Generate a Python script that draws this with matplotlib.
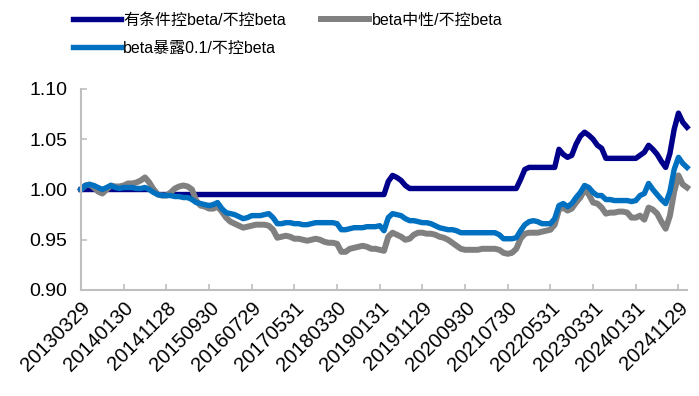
import numpy as np
import matplotlib.pyplot as plt

plt.rcParams['font.family'] = ['Liberation Sans', 'Noto Sans CJK SC']

# monthly data, tick every 10 months
tick_labels = ['20130329', '20140130', '20141128', '20150930', '20160729',
               '20170531', '20180330', '20190131', '20191129', '20200930',
               '20210730', '20220531', '20230331', '20240131', '20241129']

cond_ctrl = [1.000, 1.000, 1.000, 1.000, 1.000, 1.000, 1.000, 1.000, 1.000, 1.000,
             1.000, 1.000, 1.000, 1.000, 1.000, 1.000, 1.000, 1.000, 0.995, 0.995,
             0.995, 0.995, 0.995, 0.995, 0.995, 0.995, 0.995, 0.995, 0.995, 0.995,
             0.995, 0.995, 0.995, 0.995, 0.995, 0.995, 0.995, 0.995, 0.995, 0.995,
             0.995, 0.995, 0.995, 0.995, 0.995, 0.995, 0.995, 0.995, 0.995, 0.995,
             0.995, 0.995, 0.995, 0.995, 0.995, 0.995, 0.995, 0.995, 0.995, 0.995,
             0.995, 0.995, 0.995, 0.995, 0.995, 0.995, 0.995, 0.995, 0.995, 0.995,
             0.995, 0.995, 1.008, 1.014, 1.012, 1.009, 1.004, 1.001, 1.001, 1.001,
             1.001, 1.001, 1.001, 1.001, 1.001, 1.001, 1.001, 1.001, 1.001, 1.001,
             1.001, 1.001, 1.001, 1.001, 1.001, 1.001, 1.001, 1.001, 1.001, 1.001,
             1.001, 1.001, 1.001, 1.010, 1.020, 1.022, 1.022, 1.022, 1.022, 1.022,
             1.022, 1.022, 1.040, 1.035, 1.032, 1.034, 1.045, 1.053, 1.057, 1.054,
             1.050, 1.044, 1.041, 1.031, 1.031, 1.031, 1.031, 1.031, 1.031, 1.031,
             1.031, 1.034, 1.037, 1.044, 1.040, 1.035, 1.028, 1.022, 1.036, 1.060,
             1.076, 1.067, 1.062]

neutral = [1.000, 1.004, 1.005, 1.002, 0.998, 0.996, 1.000, 1.004, 1.003, 1.003,
           1.004, 1.006, 1.006, 1.007, 1.009, 1.012, 1.007, 1.000, 0.995, 0.994,
           0.994, 0.997, 1.001, 1.003, 1.004, 1.003, 1.000, 0.989, 0.984, 0.983,
           0.981, 0.981, 0.983, 0.978, 0.972, 0.968, 0.966, 0.964, 0.962, 0.963,
           0.964, 0.965, 0.965, 0.965, 0.964, 0.960, 0.952, 0.953, 0.954, 0.953,
           0.951, 0.951, 0.950, 0.949, 0.950, 0.951, 0.950, 0.948, 0.947, 0.947,
           0.946, 0.938, 0.938, 0.941, 0.942, 0.943, 0.944, 0.943, 0.941, 0.941,
           0.940, 0.939, 0.953, 0.957, 0.955, 0.953, 0.950, 0.951, 0.955, 0.957,
           0.957, 0.956, 0.956, 0.955, 0.953, 0.952, 0.950, 0.947, 0.944, 0.941,
           0.940, 0.940, 0.940, 0.940, 0.941, 0.941, 0.941, 0.941, 0.940, 0.937,
           0.936, 0.937, 0.941, 0.951, 0.956, 0.957, 0.957, 0.957, 0.958, 0.959,
           0.960, 0.965, 0.980, 0.982, 0.979, 0.981, 0.987, 0.992, 1.000, 0.995,
           0.987, 0.986, 0.982, 0.976, 0.977, 0.977, 0.978, 0.978, 0.977, 0.972,
           0.972, 0.974, 0.970, 0.982, 0.980, 0.976, 0.968, 0.961, 0.974, 0.998,
           1.014, 1.005, 1.002]

expo01 = [1.000, 1.004, 1.005, 1.004, 1.002, 1.000, 1.002, 1.004, 1.002, 1.001,
          1.002, 1.002, 1.002, 1.001, 1.001, 1.002, 1.000, 0.997, 0.995, 0.994,
          0.994, 0.994, 0.993, 0.993, 0.992, 0.992, 0.990, 0.987, 0.986, 0.985,
          0.984, 0.985, 0.987, 0.981, 0.977, 0.976, 0.975, 0.973, 0.971, 0.972,
          0.974, 0.974, 0.974, 0.975, 0.976, 0.972, 0.966, 0.966, 0.967, 0.967,
          0.966, 0.966, 0.965, 0.965, 0.966, 0.967, 0.967, 0.967, 0.967, 0.967,
          0.966, 0.960, 0.960, 0.961, 0.962, 0.962, 0.962, 0.963, 0.963, 0.963,
          0.964, 0.959, 0.972, 0.976, 0.975, 0.974, 0.971, 0.969, 0.969, 0.968,
          0.967, 0.967, 0.966, 0.964, 0.962, 0.961, 0.960, 0.960, 0.959, 0.957,
          0.957, 0.957, 0.957, 0.957, 0.957, 0.957, 0.957, 0.957, 0.955, 0.951,
          0.951, 0.951, 0.952, 0.959, 0.965, 0.968, 0.969, 0.968, 0.966, 0.966,
          0.966, 0.971, 0.984, 0.986, 0.983, 0.986, 0.992, 0.997, 1.004, 1.002,
          0.997, 0.994, 0.994, 0.990, 0.990, 0.989, 0.989, 0.989, 0.989, 0.988,
          0.989, 0.994, 0.996, 1.006, 1.000, 0.995, 0.990, 0.986, 0.998, 1.020,
          1.032, 1.026, 1.022]

x = np.arange(len(cond_ctrl))
tick_pos = np.arange(len(tick_labels)) * 10

fig = plt.figure(figsize=(6.99, 3.96), dpi=100)
ax = fig.add_axes([81 / 699, 1 - 290 / 396, (687 - 81) / 699, (290 - 89) / 396])

l1, = ax.plot(x, cond_ctrl, color='#00008B', lw=3.9, solid_joinstyle='round',
              clip_on=False, label='有条件控beta/不控beta')
l2, = ax.plot(x, neutral, color='#808080', lw=4.3, solid_joinstyle='round',
              clip_on=False, label='beta中性/不控beta')
l3, = ax.plot(x, expo01, color='#0070C0', lw=3.9, solid_joinstyle='round',
              clip_on=False, label='beta暴露0.1/不控beta')

ax.set_xlim(0, len(x) - 1)
ax.set_ylim(0.90, 1.10)
ax.set_yticks([0.90, 0.95, 1.00, 1.05, 1.10])
ax.set_yticklabels(['0.90', '0.95', '1.00', '1.05', '1.10'])
ax.set_xticks(tick_pos)
ax.set_xticklabels(tick_labels, rotation=45, ha='right', rotation_mode='anchor')

for s in ['top', 'right']:
    ax.spines[s].set_visible(False)
for s in ['left', 'bottom']:
    ax.spines[s].set_color('#BFBFBF')
    ax.spines[s].set_linewidth(1.5)
ax.tick_params(axis='both', direction='in', length=4, width=1.2, color='#BFBFBF',
               labelsize=14, labelcolor='black')
ax.tick_params(axis='x', labelsize=14.5, pad=6)
ax.tick_params(axis='y', pad=10)

# legend is filled column by column: navy, blue | gray
fig.legend(handles=[l1, l3, l2], ncol=2, loc='upper left',
           bbox_to_anchor=(73 / 699, 1 - 13 / 396), frameon=False,
           fontsize=11.5, handlelength=3.0, handletextpad=0.15,
           columnspacing=2.2, labelspacing=0.8, borderpad=0, borderaxespad=0)

fig.savefig('out.png', dpi=100)
